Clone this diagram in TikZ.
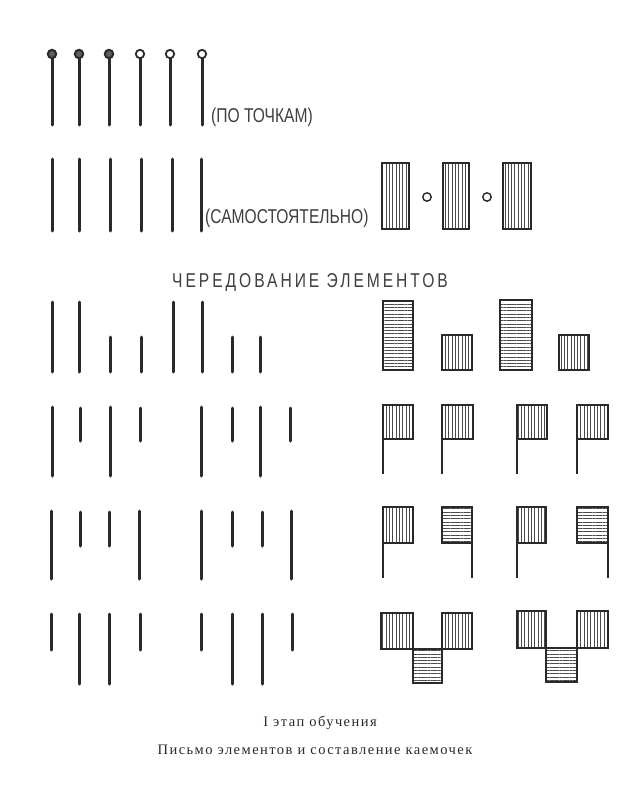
\documentclass[tikz,border=0pt]{standalone}
\usepackage{fontspec}
\setmainfont{Liberation Serif}
\newfontfamily\lettering{Liberation Sans}
\newfontfamily\spacedlettering[LetterSpace=19]{Liberation Sans}
\newfontfamily\capfont[LetterSpace=10]{Liberation Serif}
\usetikzlibrary{patterns.meta}
\definecolor{ink}{HTML}{2A2A2A}
\tikzset{
  stroke/.style={line width=3pt, line cap=round, draw=ink},
  box/.style={line width=2.8pt, draw=ink},
  vh/.style={box, pattern={Lines[angle=90,distance=3.3pt,line width=0.7pt]}, pattern color=ink!85},
  hh/.style={box, pattern={Lines[angle=0,distance=3.3pt,line width=0.7pt]}, pattern color=ink!85},
  lab/.style={inner sep=0pt, text=ink!90, font=\lettering\fontsize{20}{20}\selectfont},
  titletext/.style={inner sep=0pt, text=ink!90, font=\spacedlettering\fontsize{20}{20}\selectfont},
  captext/.style={inner sep=0pt, text=ink, font=\capfont\fontsize{14.5}{14.5}\selectfont},
}
\newcommand\condtext[1]{\scalebox{0.78}[1]{#1}}
\begin{document}
\begin{tikzpicture}[x=1pt,y=-1pt]
\useasboundingbox[fill=white] (0,0) rectangle (629,809);
% Row 1
\foreach \x in {52,79,109,140,170,202}{
  \draw[stroke] (\x,58) -- (\x,125);
}
\foreach \x in {52,79,109}{
  \draw[line width=2pt, draw=ink, fill=ink!75] (\x,54) circle (4.2);
}
\foreach \x in {140,170,202}{
  \draw[line width=1.8pt, draw=ink, fill=white] (\x,54) circle (4.2);
}
\node[lab, anchor=west] (t1) at (211,117) {\condtext{(ПО ТОЧКАМ)}};
% Row 2
\foreach \x in {52,79,110,141,172,201}{
  \draw[stroke] (\x,159) -- (\x,231);
}
\node[lab, anchor=west] (t2) at (205,218) {\condtext{(САМОСТОЯТЕЛЬНО)}};
\draw[vh] (382,163) rectangle (409,229);
\draw[vh] (443,163) rectangle (469,229);
\draw[vh] (503,163) rectangle (531,229);
\draw[line width=1.4pt, draw=ink] (427,197) circle (4.2);
\draw[line width=1.4pt, draw=ink] (487,197) circle (4.2);
% Title
\node[titletext] (title) at (310,283) {\condtext{ЧЕРЕДОВАНИЕ ЭЛЕМЕНТОВ}};
% Row 3
\foreach \x in {52,79,173,202}{ \draw[stroke] (\x,302) -- (\x,372); }
\foreach \x in {110,141,232,260}{ \draw[stroke] (\x,337) -- (\x,372); }
\draw[hh] (383,301) rectangle (413,370);
\draw[vh] (442,335) rectangle (472,370);
\draw[hh] (500,300) rectangle (532,370);
\draw[vh] (559,335) rectangle (589,370);
% Row 4
\foreach \x in {52,110,201,260}{ \draw[stroke] (\x,407) -- (\x,476); }
\foreach \x in {80,140,232,290}{ \draw[stroke] (\x,408) -- (\x,441); }
\foreach \x/\w in {383/30,442/31,517/30,577/31}{
  \draw[vh] (\x,405) rectangle ({\x+\w},439);
  \draw[box] (\x,439) -- (\x,474);
}
% Row 5
\foreach \x in {51,139,201,291}{ \draw[stroke] (\x,511) -- (\x,579); }
\foreach \x in {80,109,232,262}{ \draw[stroke] (\x,512) -- (\x,546); }
\draw[vh] (383,507) rectangle (413,543); \draw[box] (383,543) -- (383,578);
\draw[hh] (442,507) rectangle (472,543); \draw[box] (472,543) -- (472,578);
\draw[vh] (517,507) rectangle (546,543); \draw[box] (517,543) -- (517,578);
\draw[hh] (577,507) rectangle (608,543); \draw[box] (608,543) -- (608,578);
% Row 6
\foreach \x in {51,140,201,292}{ \draw[stroke] (\x,614) -- (\x,650); }
\foreach \x in {79,109,232,262}{ \draw[stroke] (\x,614) -- (\x,684); }
\draw[vh] (381,613) rectangle (413,649);
\draw[hh] (413,649) rectangle (442,683);
\draw[vh] (442,613) rectangle (472,649);
\draw[vh] (517,611) rectangle (546,648);
\draw[hh] (546,648) rectangle (577,682);
\draw[vh] (577,611) rectangle (608,648);
% Caption
\node[captext] (c1) at (320,723) {I этап обучения};
\node[captext] (c2) at (315,750) {Письмо элементов и составление каемочек};
\end{tikzpicture}
\end{document}
